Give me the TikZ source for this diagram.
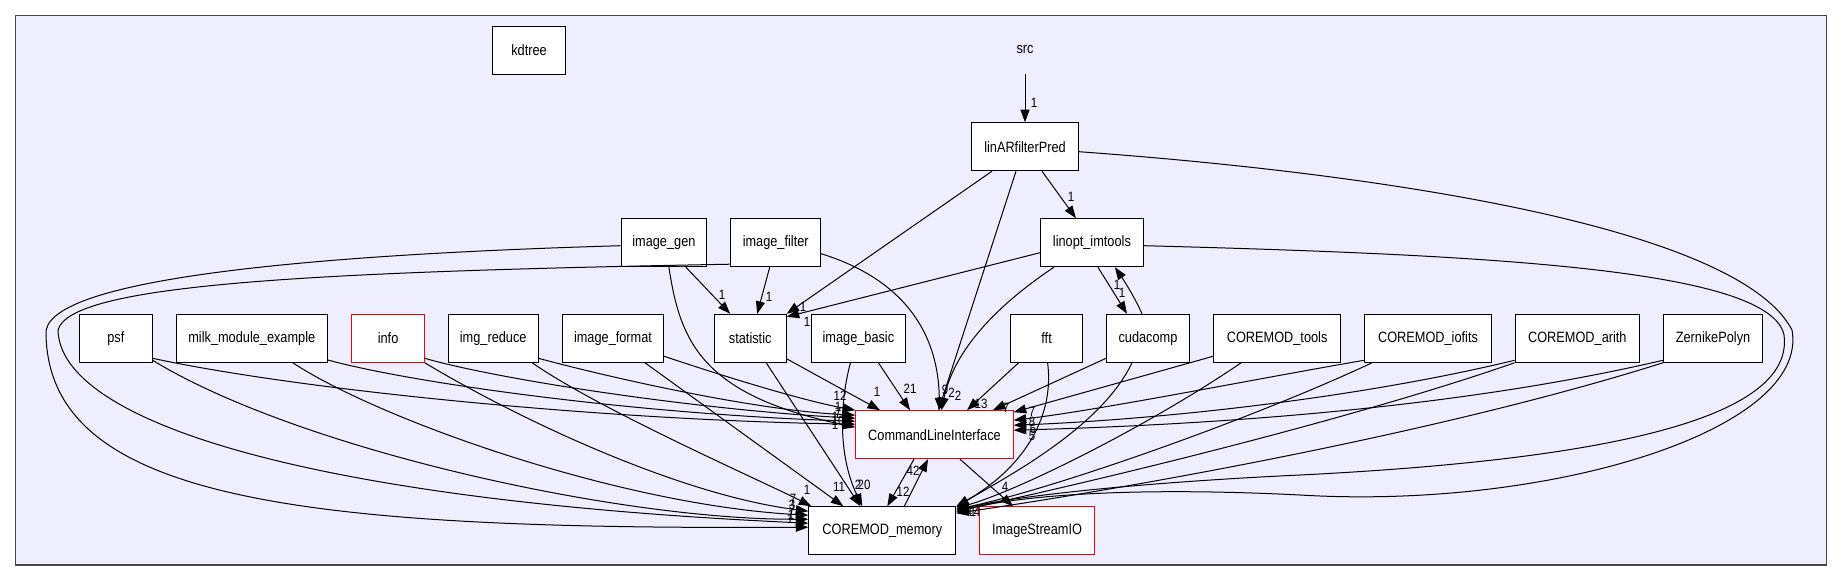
\documentclass[tikz,border=0pt]{standalone}
\usepackage{fontspec}
\setmainfont{Liberation Sans}[FakeStretch=0.85]
\usetikzlibrary{arrows.meta}
\definecolor{clusterbg}{HTML}{EEEEFF}
\definecolor{framecol}{HTML}{484848}
\tikzset{
 box/.style={draw=black, fill=white, line width=1pt, minimum height=48pt, inner sep=0pt, font=\fontsize{15}{18}\selectfont},
 redbox/.style={box, draw=red},
 plain/.style={minimum height=48pt, inner sep=0pt, font=\fontsize{15}{18}\selectfont},
 dep/.style={line width=1pt, -{Triangle[length=12.5pt,width=9pt]}},
 lab/.style={inner sep=0pt, font=\fontsize{13.5}{15}\selectfont},
}
\begin{document}
\begin{tikzpicture}[x=1pt,y=-1pt]
\useasboundingbox (0,0) rectangle (1843,581);
\draw[framecol, fill=clusterbg, line width=1.3pt] (15.8,15.7) rectangle (1826.6,565);

% nodes
\node[box, minimum width=73pt] (kdtree) at (529,50) {kdtree};
\node[plain] (src) at (1025,50) {src};
\node[box, minimum width=106.7pt] (linAR) at (1025,146.7) {linARfilterPred};
\node[box, minimum width=85.8pt] (igen) at (663.9,242.7) {image\_gen};
\node[box, minimum width=89.7pt] (ifil) at (775.7,242.7) {image\_filter};
\node[box, minimum width=102.8pt] (linopt) at (1091.9,242.7) {linopt\_imtools};
\node[box, minimum width=72.6pt] (psf) at (115.8,338.3) {psf};
\node[box, minimum width=151pt] (milk) at (251.8,338.3) {milk\_module\_example};
\node[redbox, minimum width=72.4pt] (info) at (388.1,338.3) {info};
\node[box, minimum width=89.7pt] (ired) at (493.2,338.3) {img\_reduce};
\node[box, minimum width=101.4pt] (ifmt) at (613,338.3) {image\_format};
\node[box, minimum width=72pt] (stat) at (750.2,338.3) {statistic};
\node[box, minimum width=94.5pt] (ibas) at (858.4,338.3) {image\_basic};
\node[box, minimum width=72.4pt] (fft) at (1046.6,338.3) {fft};
\node[box, minimum width=83pt] (cuda) at (1148,338.3) {cudacomp};
\node[box, minimum width=127.2pt] (tools) at (1277.1,338.3) {COREMOD\_tools};
\node[box, minimum width=127.2pt] (iofits) at (1428,338.3) {COREMOD\_iofits};
\node[box, minimum width=124.6pt] (arith) at (1577.3,338.3) {COREMOD\_arith};
\node[box, minimum width=99.3pt] (zern) at (1713,338.3) {ZernikePolyn};
\node[redbox, minimum width=157.4pt] (cli) at (934.5,434.7) {CommandLineInterface};
\node[box, minimum width=147pt] (mem) at (882.3,530.7) {COREMOD\_memory};
\node[redbox, minimum width=114.7pt] (isio) at (1037,530.7) {ImageStreamIO};

% edges
\draw[dep] (src.south) -- (linAR.north);
\draw[dep] ([xshift=17pt]linAR.south) -- ([xshift=-16pt]linopt.north);
\draw[dep] ([xshift=-33pt]linAR.south) -- (stat.north east);
\draw[dep] ([xshift=-9pt]linAR.south) -- ([xshift=4pt]cli.north);
\draw[dep] ([yshift=-5pt]linAR.east) .. controls (1400,175) and (1740,230) .. (1792,330)
  .. controls (1810,430) and (1550,510) .. (1300,495)
  .. controls (1100,485) and (1000,500) .. ([yshift=-6pt]mem.north east);
\draw[dep] ([yshift=-10pt]linopt.west) -- ([yshift=-3pt]stat.north east);
\draw[dep] ([xshift=-38pt]linopt.south) .. controls (1005,300) and (955,345) .. ([xshift=7pt]cli.north);
\draw[dep] ([xshift=6pt]linopt.south) -- ([xshift=-21pt]cuda.north);
\draw[dep] ([yshift=-3pt]linopt.east) .. controls (1500,255) and (1770,270) .. (1784,335)
  .. controls (1795,420) and (1600,460) .. (1300,475)
  .. controls (1150,482) and (1020,495) .. ([yshift=-4pt]mem.north east);
\draw[dep] ([xshift=-6pt]cuda.north) .. controls (1135,298) and (1125,282) .. ([xshift=23pt]linopt.south);
\draw[dep] ([yshift=-20pt]cuda.west) -- ([xshift=58.5pt]cli.north);
\draw[dep] ([xshift=-16pt]cuda.south) .. controls (1100,430) and (1000,480) .. ([yshift=-1pt]mem.north east);
\draw[dep] ([xshift=-28pt]fft.south) -- ([xshift=32.5pt]cli.north);
\draw[dep] ([xshift=1pt]fft.south) .. controls (1055,420) and (1020,470) .. (mem.north east);
\draw[dep] ([xshift=22pt]igen.south) -- ([xshift=-20pt]stat.north);
\draw[dep] ([xshift=5pt]igen.south) .. controls (680,340) and (700,395) .. ([yshift=-17pt]cli.north west);
\draw[dep] ([yshift=-3pt]igen.west) .. controls (300,255) and (40,280) .. (46,335)
  .. controls (50,500) and (300,530) .. ([yshift=-21pt]mem.north west);
\draw[dep] ([xshift=-6pt]ifil.south) -- ([xshift=7pt]stat.north);
\draw[dep] ([yshift=-11pt]ifil.east) .. controls (890,275) and (938,320) .. ([xshift=5pt]cli.north);
\draw[dep] ([yshift=3pt]ifil.south west) .. controls (300,272) and (70,285) .. (58,330)
  .. controls (60,420) and (300,500) .. ([yshift=-17pt]mem.north west);
\draw[dep] ([yshift=-20pt]psf.east) .. controls (300,390) and (600,420) .. ([yshift=-14pt]cli.north west);
\draw[dep] ([yshift=-22pt]psf.east) .. controls (300,450) and (620,520) .. ([yshift=-13pt]mem.north west);
\draw[dep] ([yshift=-21.7pt]milk.east) .. controls (420,385) and (650,415) .. ([yshift=-11pt]cli.north west);
\draw[dep] ([xshift=41pt]milk.south) .. controls (380,420) and (620,505) .. ([yshift=-9pt]mem.north west);
\draw[dep] ([yshift=-20pt]info.east) .. controls (500,380) and (700,410) .. ([yshift=-8pt]cli.north west);
\draw[dep] (info.south east) .. controls (520,420) and (680,495) .. ([yshift=-5pt]mem.north west);
\draw[dep] ([yshift=-20pt]ired.east) .. controls (600,375) and (750,410) .. ([yshift=-5pt]cli.north west);
\draw[dep] ([xshift=39pt]ired.south) .. controls (600,410) and (760,480) .. ([xshift=3pt]mem.north west);
\draw[dep] ([yshift=-18pt]ifmt.east) .. controls (720,375) and (800,400) .. (cli.north west);
\draw[dep] ([xshift=32pt]ifmt.south) -- ([xshift=-39pt]mem.north);
\draw[dep] ([yshift=4pt]stat.south east) -- ([xshift=-54.5pt]cli.north);
\draw[dep] ([xshift=16pt]stat.south) -- ([xshift=-22pt]mem.north);
\draw[dep] ([xshift=20pt]ibas.south) -- ([xshift=-24.5pt]cli.north);
\draw[dep] ([xshift=-8pt]ibas.south) .. controls (838,410) and (840,460) .. ([xshift=-20pt]mem.north);
\draw[dep] ([yshift=-18pt]tools.west) -- ([yshift=-2pt]cli.north east);
\draw[dep] ([xshift=-36pt]tools.south) .. controls (1150,425) and (1020,490) .. ([yshift=-2pt]mem.north east);
\draw[dep] ([yshift=-22pt]iofits.west) .. controls (1250,380) and (1100,410) .. ([yshift=-10pt]cli.north east);
\draw[dep] ([xshift=-56pt]iofits.south) .. controls (1250,420) and (1050,490) .. ([yshift=-3pt]mem.north east);
\draw[dep] ([yshift=-22pt]arith.west) .. controls (1350,400) and (1150,420) .. ([yshift=-15pt]cli.north east);
\draw[dep] (arith.south west) .. controls (1350,420) and (1100,480) .. ([yshift=-5pt]mem.north east);
\draw[dep] ([yshift=-22pt]zern.west) .. controls (1450,410) and (1200,425) .. ([yshift=-20pt]cli.north east);
\draw[dep] (zern.south west) .. controls (1450,430) and (1150,485) .. ([yshift=-7pt]mem.north east);
\draw[dep] ([xshift=-20.5pt]cli.south) -- ([xshift=5pt]mem.north);
\draw[dep] ([xshift=22pt]mem.north) -- ([xshift=-6.5pt]cli.south);
\draw[dep] ([xshift=25.5pt]cli.south) -- ([xshift=-24pt]isio.north);

% labels
\node[lab] (l1) at (1034,103) {1};
\node[lab] (l2) at (1071,197) {1};
\node[lab] (l3) at (803,307) {1};
\node[lab] (l4) at (807,322) {1};
\node[lab] (l5) at (722,295) {1};
\node[lab] (l6) at (769,297) {1};
\node[lab] (l7) at (877,392) {1};
\node[lab] (l8) at (910,389) {21};
\node[lab] (l9) at (945,390) {9};
\node[lab] (l10) at (951.5,393) {2};
\node[lab] (l11) at (958,396) {2};
\node[lab] (l12) at (981,404) {13};
\node[lab] (l13) at (1006,408) {7};
\node[lab] (l14) at (1032,412) {7};
\node[lab] (l15) at (1032,422) {8};
\node[lab] (l16) at (1033,429) {6};
\node[lab] (l17) at (1032,436) {5};
\node[lab] (l18) at (840,396) {12};
\node[lab] (l19) at (838,407) {1};
\node[lab] (l20) at (838,413) {7};
\node[lab] (l21) at (835,417) {1};
\node[lab] (l22) at (838,421) {10};
\node[lab] (l23) at (835,425) {1};
\node[lab] (l24) at (807,490) {1};
\node[lab] (l25) at (839,487) {11};
\node[lab] (l26) at (858,485) {2};
\node[lab] (l27) at (864,485) {20};
\node[lab] (l28) at (793,499) {7};
\node[lab] (l29) at (792,505) {3};
\node[lab] (l30) at (792,510) {7};
\node[lab] (l31) at (791,515) {1};
\node[lab] (l32) at (790,519) {1};
\node[lab] (l33) at (903,492) {12};
\node[lab] (l34) at (913,471) {42};
\node[lab] (l35) at (1005,487) {4};
\node[lab] (l36) at (969,512) {4};
\node[lab] (l37) at (973,512) {1};
\node[lab] (l38) at (977,512) {4};
\node[lab] (l39) at (1117,285) {1};
\node[lab] (l40) at (1122,293) {1};
\end{tikzpicture}
\end{document}
